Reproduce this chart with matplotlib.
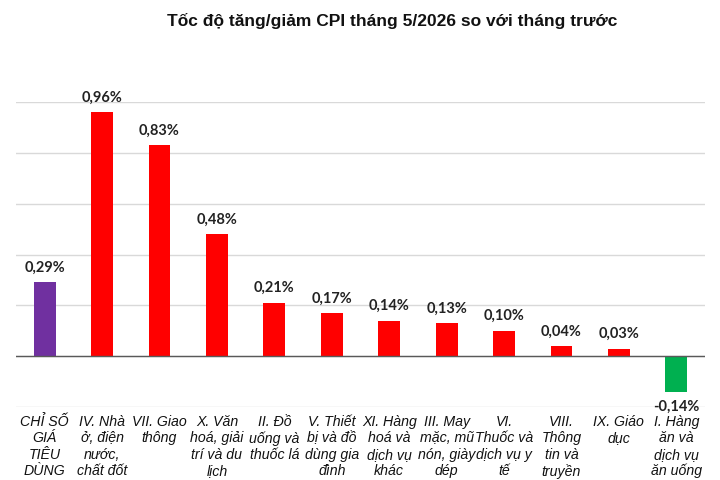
import numpy as np
import matplotlib.pyplot as plt

# categories (wrapped like the original)
categories = [
    "CHỈ SỐ\nGIÁ\nTIÊU\nDÙNG",
    "IV. Nhà\nở, điện\nnước,\nchất đốt",
    "VII. Giao\nthông",
    "X. Văn\nhoá, giải\ntrí và du\nlịch",
    "II. Đồ\nuống và\nthuốc lá",
    "V. Thiết\nbị và đồ\ndùng gia\nđình",
    "XI. Hàng\nhoá và\ndịch vụ\nkhác",
    "III. May\nmặc, mũ\nnón, giày\ndép",
    "VI.\nThuốc và\ndịch vụ y\ntế",
    "VIII.\nThông\ntin và\ntruyền",
    "IX. Giáo\ndục",
    "I. Hàng\năn và\ndịch vụ\năn uống",
]
values = [0.29, 0.96, 0.83, 0.48, 0.21, 0.17, 0.14, 0.13, 0.10, 0.04, 0.03, -0.14]
bar_colors = ["#7030A0"] + ["#FF0000"] * 10 + ["#00B050"]

title = "Tốc độ tăng/giảm CPI tháng 5/2026 so với tháng trước"

fig = plt.figure(figsize=(7.2, 4.8), dpi=100)
ax = fig.add_axes([16/720, (480-407)/480, (705-16)/720, (407-102)/480])

x = np.arange(len(values))
ax.bar(x, values, width=0.38, color=bar_colors, zorder=3)

ax.set_xlim(-0.5, len(values) - 0.5)
ax.set_ylim(-0.2, 1.0)
ax.set_yticks(np.arange(-0.2, 1.01, 0.2))
ax.yaxis.grid(True, color="#D9D9D9", linewidth=1.0, zorder=0)
ax.axhline(0, color="#595959", linewidth=1.0, zorder=4)
ax.tick_params(left=False, bottom=False, labelleft=False, labelbottom=False)
for s in ax.spines.values():
    s.set_visible(False)

# value labels
for xi, v in zip(x, values):
    lab = f"{v:.2f}%".replace(".", ",")
    if v >= 0:
        ax.text(xi, v + 0.03, lab, ha="center", va="bottom", fontsize=10.5,
                fontweight="bold", family="Lato", color="#222222")
    else:
        ax.text(xi, -0.2, lab, ha="center", va="center", fontsize=10.5,
                fontweight="bold", family="Lato", color="#222222")

# category labels under the axes
for xi, c in zip(x, categories):
    ax.text(xi, -0.232, c, ha="center", va="top", fontsize=10.2, style="italic",
            family="Liberation Sans", linespacing=1.2, color="#111111",
            clip_on=False)

fig.text(0.545, 0.957, title, ha="center", va="center", fontsize=12.5,
         fontweight="bold", family="Liberation Sans", color="#111111")

fig.savefig("out.png", dpi=100)
